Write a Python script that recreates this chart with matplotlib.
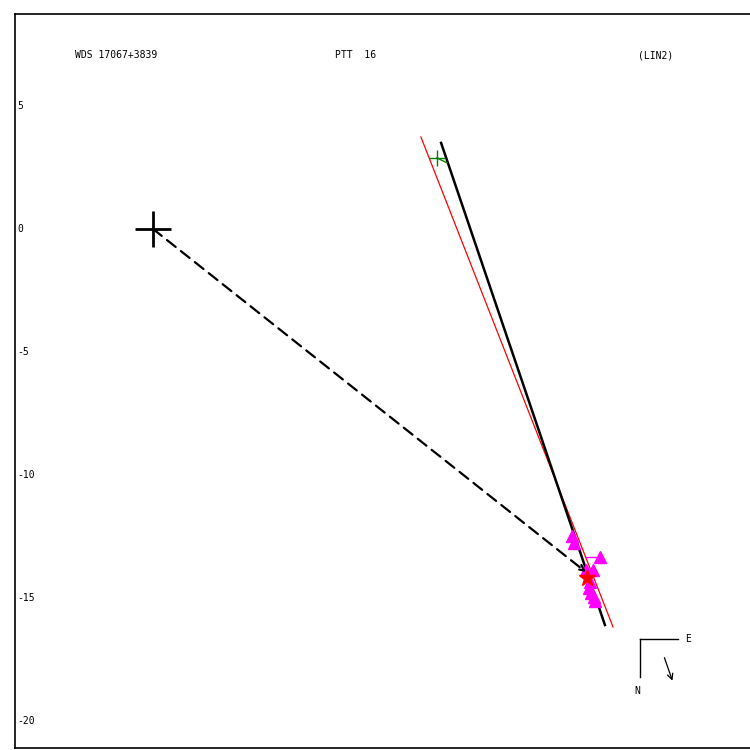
import numpy as np
import matplotlib.pyplot as plt

# header texts
title_left = 'WDS 17067+3839'
title_mid = 'PTT  16'
title_right = '(LIN2)'

# y tick labels
yticks = [5, 0, -5, -10, -15, -20]

# primary star at origin
primary = (0.0, 0.0)

# observed positions of the companion (magenta triangles)
obs_x = [17.03, 17.11, 18.17, 17.60, 17.89, 17.76, 17.72, 17.80, 17.93, 17.97]
obs_y = [-12.48, -12.76, -13.33, -13.86, -13.86, -14.35, -14.59, -14.80, -14.96, -15.12]

# predicted points on the fitted line for observations (O-C)
fit_x = [17.09, 17.14, 17.62, 17.60, 17.78, 17.76, 17.82, 17.88, 17.92, 17.97]
fit_y = [-12.48, -12.76, -13.33, -13.86, -13.86, -14.35, -14.59, -14.80, -14.96, -15.12]

# latest position (red star)
star_x, star_y = 17.64, -14.19

# linear fit (black) and alternative line (red)
black_x = [11.71, 18.37]
black_y = [3.50, -16.10]
red_x = [10.89, 18.70]
red_y = [3.74, -16.18]

# first observation (green cross) and its residual
green_x, green_y = 11.54, 2.89
green_fit = (11.95, 2.69)

# motion vector (dashed arrow)
arrow_end = (17.60, -13.95)

plt.rcParams['font.family'] = 'DejaVu Sans Mono'

fig = plt.figure(figsize=(7.5, 7.5), dpi=100)
ax = fig.add_axes([15/750, 2/750, 740/750, 734/750])
ax.set_xlim(-5.61, 24.47)
ax.set_ylim(-21.10, 8.74)

ax.spines['right'].set_visible(False)
for s in ['left', 'top', 'bottom']:
    ax.spines[s].set_linewidth(1.2)
ax.set_xticks([])
ax.set_yticks([])
for t in yticks:
    ax.text(0.003, t, str(t), transform=ax.get_yaxis_transform(),
            fontsize=7, va='center', ha='left')

# header
head_y = 1 - 55/750
ax.text(75/750, head_y, title_left, transform=fig.transFigure, fontsize=7,
        va='center', ha='left')
ax.text(335/750, head_y, title_mid, transform=fig.transFigure, fontsize=7,
        va='center', ha='left')
ax.text(638/750, head_y, title_right, transform=fig.transFigure, fontsize=7,
        va='center', ha='left')

# primary cross
ax.plot(*primary, marker='+', color='black', markersize=26, mew=2)

# dashed motion arrow
ax.annotate('', xy=arrow_end, xytext=primary,
            arrowprops=dict(arrowstyle='->', color='black', lw=1.6,
                            linestyle=(0, (5, 3)), shrinkA=0, shrinkB=0))

# lines
ax.plot(red_x, red_y, color='red', lw=0.9)
ax.plot(black_x, black_y, color='black', lw=1.8)

# O-C residuals
for ox, oy, fx, fy in zip(obs_x, obs_y, fit_x, fit_y):
    ax.plot([ox, fx], [oy, fy], color='magenta', lw=1)
ax.plot(obs_x, obs_y, ls='none', marker='^', color='magenta', markersize=8)

ax.plot([green_x, green_fit[0]], [green_y, green_fit[1]], color='green', lw=1)
ax.plot(green_x, green_y, marker='+', color='green', markersize=11, mew=1)

ax.plot(star_x, star_y, marker='*', color='red', markersize=12)

# compass
cx, cy = 19.80, -16.67
ax.plot([cx, cx + 1.55], [cy, cy], color='black', lw=1)
ax.plot([cx, cx], [cy, cy - 1.55], color='black', lw=1)
ax.text(cx + 1.85, cy, 'E', fontsize=7, va='center', ha='left')
ax.text(cx - 0.1, cy - 2.1, 'N', fontsize=7, va='center', ha='center')
ax.annotate('', xy=(cx + 1.35, cy - 1.8), xytext=(cx + 0.95, cy - 0.65),
            arrowprops=dict(arrowstyle='->', color='black', lw=0.9))

plt.savefig('out.png', dpi=100)
